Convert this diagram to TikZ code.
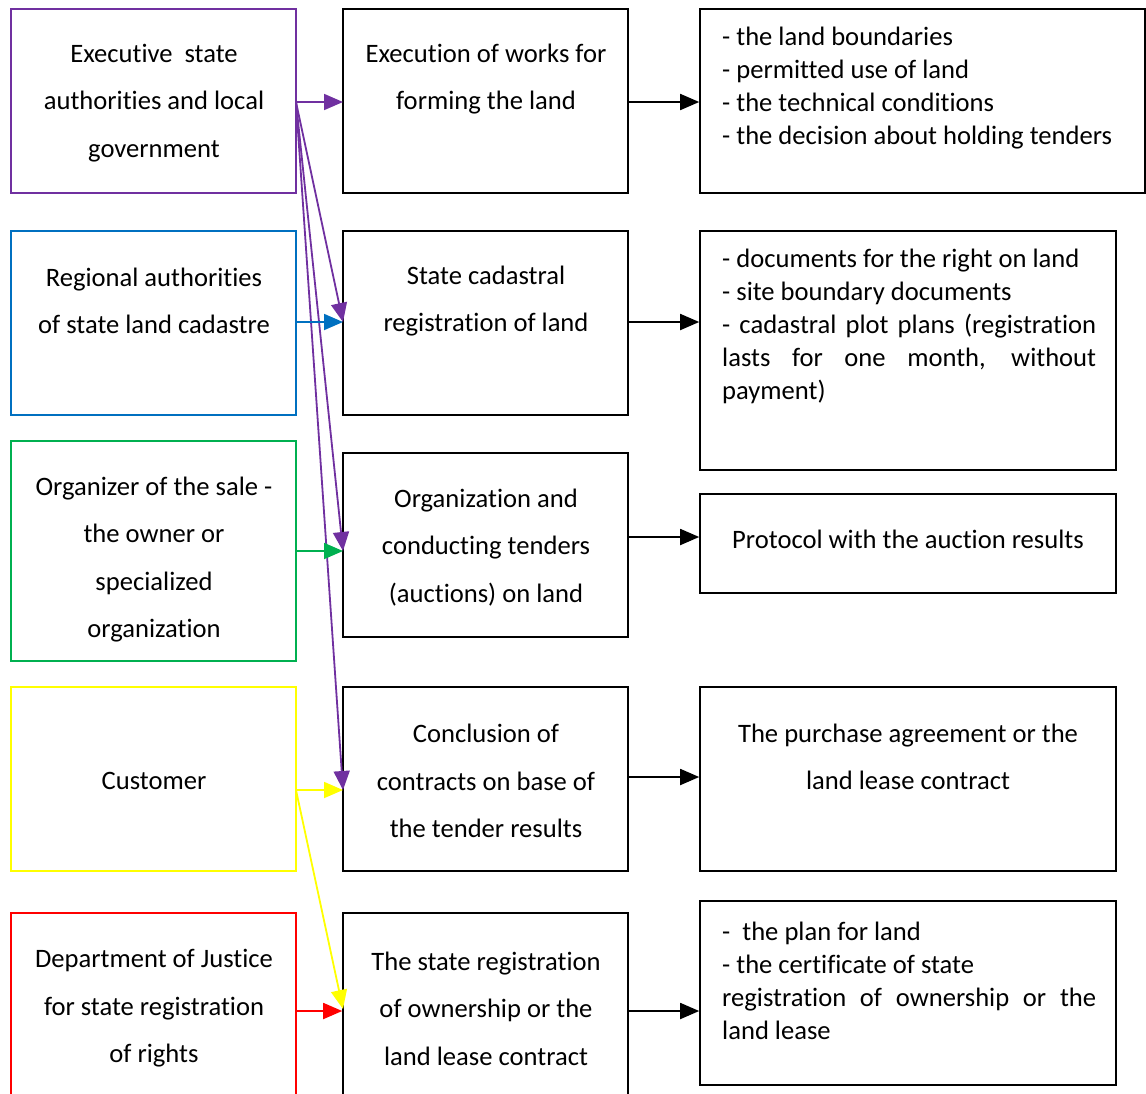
\documentclass[tikz,border=0pt]{standalone}
\usepackage{fontspec}
\setmainfont[Ligatures=NoCommon]{Carlito}
\usetikzlibrary{arrows.meta}
\definecolor{cpurple}{HTML}{7030A0}
\definecolor{cblue}{HTML}{0070C0}
\definecolor{cgreen}{HTML}{00B050}
\definecolor{cyellow}{HTML}{FFFF00}
\definecolor{cred}{HTML}{FF0000}
\begin{document}
\begin{tikzpicture}[x=1pt,y=-1pt,
  blk/.style={draw=black, line width=1.6pt, inner sep=0pt},
  cblk/.style={draw=#1, line width=1.4pt, inner sep=0pt, minimum width=285, minimum height=184},
  wide/.style={font=\fontsize{26.6}{47.5}\selectfont, inner sep=0pt, align=center},
  tight/.style={font=\fontsize{26.6}{33}\selectfont, inner sep=0pt},
  arr/.style={line width=1.8pt, -{Triangle[length=19pt,width=16pt]}}]
\clip (0,0) rectangle (1146,1093);
\fill[white] (0,0) rectangle (1146,1093);

% left column: actors
\node[cblk=cpurple] (L1) at (153.5,101) {};
\node[cblk=cblue] (L2) at (153.5,323) {};
\node[cblk=cgreen, minimum height=220] (L3) at (153.5,551) {};
\node[cblk=cyellow] (L4) at (153.5,779) {};
\node[cblk=cred, minimum height=220] (L5) at (153.5,1023) {};

\node[wide] (tL1) at (154,103) {Executive\ \ state\\authorities and local\\government};
\node[wide] (tL2) at (154,301) {Regional authorities\\of state land cadastre};
\node[wide] (tL3) at (154,559.5) {Organizer of the sale -\\the owner or\\specialized\\organization};
\node[wide] (tL4) at (154,780.5) {Customer};
\node[wide] (tL5) at (154,1008.5) {Department of Justice\\for state registration\\of rights};

% middle column: procedures
\node[blk, minimum width=285, minimum height=184] (M1) at (485.5,101) {};
\node[blk, minimum width=285, minimum height=184] (M2) at (485.5,323) {};
\node[blk, minimum width=285, minimum height=184] (M3) at (485.5,545) {};
\node[blk, minimum width=285, minimum height=184] (M4) at (485.5,779) {};
\node[blk, minimum width=285, minimum height=220] (M5) at (485.5,1023) {};

\node[wide] (tM1) at (486,79) {Execution of works for\\forming the land};
\node[wide] (tM2) at (486,301) {State cadastral\\registration of land};
\node[wide] (tM3) at (486,547.5) {Organization and\\conducting tenders\\(auctions) on land};
\node[wide] (tM4) at (486,781) {Conclusion of\\contracts on base of\\the tender results};
\node[wide] (tM5) at (486,1008.5) {The state registration\\of ownership or the\\land lease contract};

% right column: resulting documents
\node[blk, minimum width=445, minimum height=184] (R1) at (922.5,101) {};
\node[blk, minimum width=416, minimum height=239] (R2) at (908,350.5) {};
\node[blk, minimum width=416, minimum height=99] (R3) at (908,543.5) {};
\node[blk, minimum width=416, minimum height=184] (R4) at (908,779) {};
\node[blk, minimum width=416, minimum height=184] (R5) at (908,993) {};

\node[tight, anchor=west, align=left] (tR1) at (722,88.5)
  {- the land boundaries\\- permitted use of land\\- the technical conditions\\- the decision about holding tenders};
\node[tight, anchor=west, text width=374pt, align=justify] (tR2) at (722,326)
  {- documents for the right on land\\- site boundary documents\\- cadastral plot plans (registration\linebreak lasts for one month, without\linebreak payment)};
\node[tight] (tR3) at (908,539) {Protocol with the auction results};
\node[wide] (tR4) at (908,757) {The purchase agreement or the\\land lease contract};
\node[tight, anchor=west, text width=374pt, align=justify] (tR5) at (722,980.5)
  {-\ \ the plan for land\\- the certificate of state\\registration of ownership or the\linebreak land lease};

% connector ports
\coordinate (o1) at (296,102);
\coordinate (o2) at (296,322);
\coordinate (o3) at (296,551);
\coordinate (o4) at (296,790);
\coordinate (o5) at (296,1011);
\coordinate (i1) at (343,102);
\coordinate (i2) at (343,322);
\coordinate (i3) at (343,551);
\coordinate (i4) at (343,790);
\coordinate (i5) at (343,1009);

% actors to procedures
\draw[arr, cpurple] (o1) -- (i1);
\draw[arr, cpurple] (o1) -- (i2);
\draw[arr, cpurple] (o1) -- (i3);
\draw[arr, cpurple] (o1) -- (i4);
\draw[arr, cblue] (o2) -- (i2);
\draw[arr, cgreen] (o3) -- (i3);
\draw[arr, cyellow] (o4) -- (i4);
\draw[arr, cyellow] (o4) -- (i5);
\draw[arr, cred] (o5) -- (M5.west |- o5);

% procedures to documents
\draw[arr] (M1.east |- o1) -- (R1.west |- o1);
\draw[arr] (M2.east |- o2) -- (R2.west |- o2);
\draw[arr] (M3.east |- 0,537) -- (R3.west |- 0,537);
\draw[arr] (M4.east |- 0,777) -- (R4.west |- 0,777);
\draw[arr] (M5.east |- o5) -- (R5.west |- o5);
\end{tikzpicture}
\end{document}
